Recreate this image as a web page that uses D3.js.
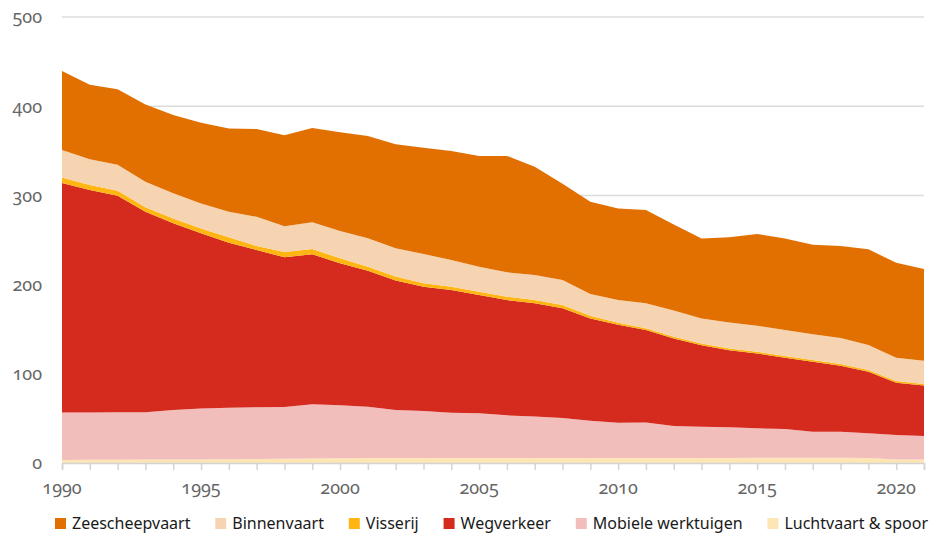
<!DOCTYPE html>
<html>
<head>
<meta charset="utf-8">
<script src="https://cdn.jsdelivr.net/npm/d3@7"></script>
<style>
  html, body { margin: 0; padding: 0; background: #fff; }
  svg { display: block; }
  .axis-label { font-family: "Noto Sans", "Open Sans", sans-serif; font-size: 18px; fill: #666; font-variant-numeric: oldstyle-nums; }
  .legend-text { font-family: "Noto Sans", "Open Sans", sans-serif; font-size: 16px; fill: #1a1a1a; }
</style>
</head>
<body>
<svg id="chart" width="932" height="534"></svg>
<script>
// ---- Data (Mton) ----
const years = d3.range(1990, 2022);
const luchtvaartSpoor = [3.5,3.6,3.7,3.8,3.9,4.0,4.2,4.5,4.8,5.0,5.3,5.5,5.5,5.5,5.6,5.6,5.7,5.7,5.7,5.6,5.6,5.6,5.5,5.5,5.6,5.8,6.0,6.0,5.9,5.7,4.0,4.0];
const mobieleWerktuigen = [53.0,53.0,53.1,53.2,55.5,57.0,57.8,58.0,58.0,61.0,59.4,57.7,53.9,52.8,50.8,50.1,47.7,46.3,44.7,41.9,39.6,39.9,36.0,35.2,34.4,33.1,32.1,29.1,29.1,27.6,27.4,26.3];
const wegverkeer = [257.5,249.4,242.7,224.7,209.3,196.5,185.0,176.3,167.8,168.0,159.2,152.3,145.1,139.4,137.6,132.6,129.3,127.0,123.0,114.5,109.8,103.5,98.0,91.3,86.5,83.9,79.9,78.4,74.0,69.0,58.6,56.5];
const visserij = [6.0,5.7,5.8,4.9,5.3,5.5,6.2,4.5,6.0,6.0,5.6,4.5,4.5,3.7,3.7,3.7,3.8,3.7,3.6,3.0,2.3,2.0,2.1,2.0,2.0,2.0,2.0,2.0,2.0,2.0,2.0,1.8];
const binnenvaart = [31.0,28.8,29.1,28.8,28.3,28.0,28.5,32.7,28.7,29.8,30.7,32.0,31.8,32.9,29.9,28.0,27.3,28.1,28.2,24.5,25.4,28.0,29.4,28.0,29.0,29.0,29.0,28.7,29.0,28.0,26.0,26.1];
const zeescheepvaart = [88.5,83.5,84.6,86.6,87.7,90.5,93.3,98.4,102.0,105.7,110.5,114.6,116.5,119.2,122.2,124.3,130.5,121.4,107.8,103.5,102.6,104.6,96.5,89.8,95.5,102.9,102.8,100.6,103.3,107.2,106.6,102.8];

const yTicks = [0, 100, 200, 300, 400, 500];
const xTickLabels = [1990, 1995, 2000, 2005, 2010, 2015, 2020];

// series in stacking order (bottom to top)
const seriesNames = ["Luchtvaart & spoor", "Mobiele werktuigen", "Wegverkeer", "Visserij", "Binnenvaart", "Zeescheepvaart"];
const seriesValues = [luchtvaartSpoor, mobieleWerktuigen, wegverkeer, visserij, binnenvaart, zeescheepvaart];
const seriesColors = ["#fde6b4", "#f2bebb", "#d52b1e", "#ffb612", "#f6d4b1", "#e17000"];
// legend order
const legendNames = ["Zeescheepvaart", "Binnenvaart", "Visserij", "Wegverkeer", "Mobiele werktuigen", "Luchtvaart & spoor"];

// ---- Build table ----
const table = years.map((yr, i) => {
  const row = { year: yr };
  seriesNames.forEach((n, k) => row[n] = seriesValues[k][i]);
  return row;
});

const svg = d3.select("#chart");
const x = d3.scaleLinear().domain([1990, 2021]).range([62, 924]);
const y = d3.scaleLinear().domain([0, 500]).range([463, 17]);
const color = d3.scaleOrdinal().domain(seriesNames).range(seriesColors);

// gridlines
svg.append("g").selectAll("line")
  .data(yTicks.filter(d => d > 0))
  .join("line")
  .attr("x1", x(1990)).attr("x2", x(2021))
  .attr("y1", d => y(d)).attr("y2", d => y(d))
  .attr("stroke", "#dcdcdc").attr("stroke-width", 1.5);

// areas
const stack = d3.stack().keys(seriesNames);
const stacked = stack(table);
const area = d3.area()
  .x(d => x(d.data.year))
  .y0(d => y(d[0]))
  .y1(d => y(d[1]));
svg.append("g").selectAll("path")
  .data(stacked)
  .join("path")
  .attr("d", area)
  .attr("fill", d => color(d.key));

// x axis (baseline + yearly ticks)
const xAxis = d3.axisBottom(x)
  .tickValues(years)
  .tickSize(7)
  .tickFormat("");
const gx = svg.append("g").attr("transform", `translate(0,${y(0)})`).call(xAxis);
gx.select(".domain").attr("stroke", "#d4d4d4").attr("stroke-width", 1.5);
gx.selectAll(".tick line").attr("stroke", "#d4d4d4").attr("stroke-width", 1.5);

svg.append("g").selectAll("text")
  .data(xTickLabels)
  .join("text")
  .attr("class", "axis-label")
  .attr("x", d => x(d))
  .attr("y", 494)
  .attr("text-anchor", "middle")
  .text(d => d);

// y labels
svg.append("g").selectAll("text")
  .data(yTicks)
  .join("text")
  .attr("class", "axis-label")
  .attr("x", 42)
  .attr("y", d => y(d))
  .attr("dy", "0.35em")
  .attr("text-anchor", "end")
  .text(d => d);

// legend: laid out to span from x=55 to x=928
const legend = svg.append("g").attr("transform", "translate(55,0)");
const items = legendNames.map(name => {
  const g = legend.append("g");
  g.append("rect").attr("x", 0).attr("y", 518).attr("width", 11).attr("height", 11).attr("fill", color(name));
  const t = g.append("text").attr("class", "legend-text").attr("x", 17).attr("y", 529).text(name);
  return { g, w: 17 + t.node().getComputedTextLength() };
});
const totalW = d3.sum(items, d => d.w);
const gap = Math.max(8, (873 - totalW) / (items.length - 1));
let lx = 0;
items.forEach(it => {
  it.g.attr("transform", `translate(${lx},0)`);
  lx += it.w + gap;
});
</script>
</body>
</html>
